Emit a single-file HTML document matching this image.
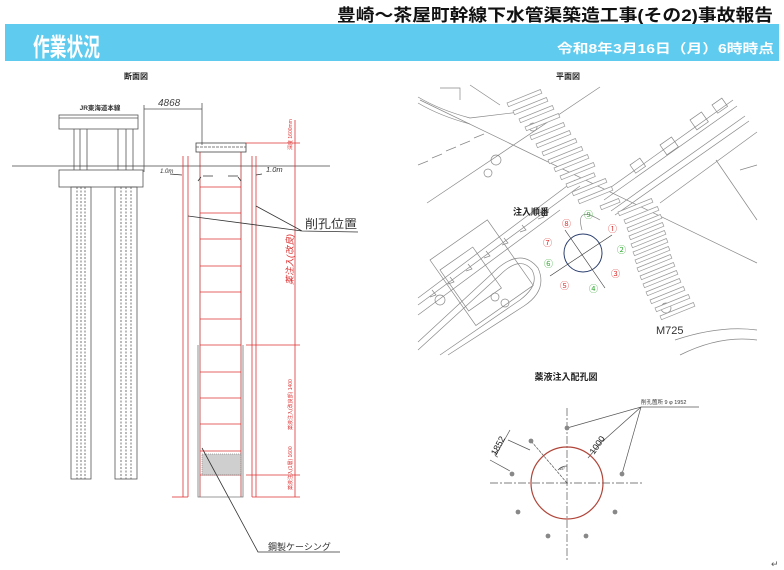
<!DOCTYPE html>
<html><head><meta charset="utf-8">
<style>
html,body{margin:0;padding:0;background:#fff;}
body{width:784px;height:570px;overflow:hidden;position:relative;font-family:"Liberation Sans","Noto Sans CJK JP",sans-serif;}
svg{position:absolute;left:0;top:0;}
</style></head><body>
<svg width="784" height="570" viewBox="0 0 784 570" xmlns="http://www.w3.org/2000/svg" font-family="Liberation Sans, Noto Sans CJK JP, sans-serif">
<!-- header -->
<text x="337" y="21" font-size="17" font-weight="bold" fill="#111" textLength="436" lengthAdjust="spacingAndGlyphs">豊崎～茶屋町幹線下水管渠築造工事(その2)事故報告</text>
<rect x="5" y="24" width="774" height="37" fill="#5fcbef"/>
<text x="33" y="56" font-size="25" font-weight="bold" fill="#fff" textLength="67" lengthAdjust="spacingAndGlyphs">作業状況</text>
<text x="557" y="53" font-size="13" font-weight="bold" fill="#fff" textLength="217" lengthAdjust="spacingAndGlyphs">令和8年3月16日（月）6時時点</text>
<text x="136" y="79" text-anchor="middle" font-size="8" font-weight="bold" fill="#222">断面図</text>
<text x="568" y="79" text-anchor="middle" font-size="8" font-weight="bold" fill="#222">平面図</text>

<!-- ===== cross section ===== -->
<g stroke="#555" stroke-width="0.8" fill="none">
<text x="100" y="110" text-anchor="middle" font-size="6.5" font-weight="bold" fill="#333" stroke="none">JR東海道本線</text>
<rect x="59" y="115" width="79" height="14"/>
<line x1="59" y1="118" x2="138" y2="118"/>
<line x1="74" y1="129" x2="74" y2="170"/><line x1="80" y1="129" x2="80" y2="170"/><line x1="87" y1="129" x2="87" y2="170"/>
<line x1="118" y1="129" x2="118" y2="170"/><line x1="126" y1="129" x2="126" y2="170"/><line x1="133" y1="129" x2="133" y2="170"/>
<line x1="12" y1="166" x2="330" y2="166" stroke="#444"/>
<rect x="59" y="170" width="84" height="17"/>
<rect x="71" y="187" width="20" height="292"/>
<rect x="115" y="187" width="22" height="292"/>
<line x1="77" y1="187" x2="77" y2="479" stroke-dasharray="2 1.5"/><line x1="81" y1="187" x2="81" y2="479" stroke-dasharray="2 1.5"/><line x1="85" y1="187" x2="85" y2="479" stroke-dasharray="2 1.5"/>
<line x1="121" y1="187" x2="121" y2="479" stroke-dasharray="2 1.5"/><line x1="126" y1="187" x2="126" y2="479" stroke-dasharray="2 1.5"/><line x1="131" y1="187" x2="131" y2="479" stroke-dasharray="2 1.5"/>
<!-- dim 4868 -->
<line x1="144" y1="105" x2="144" y2="172"/><line x1="202" y1="103" x2="202" y2="145"/>
<line x1="144" y1="109" x2="202" y2="109"/>
<text x="158" y="106" font-size="10" fill="#444" stroke="none" font-style="italic">4868</text>
<!-- shaft -->
<rect x="196" y="143" width="50" height="9" stroke="#444"/>
<line x1="196" y1="147" x2="246" y2="147" stroke-dasharray="3 1"/>
<line x1="200" y1="152" x2="200" y2="497" stroke="#b33"/><line x1="241" y1="152" x2="241" y2="497" stroke="#b33"/>
<path d="M198 345 L198 497 L243 497 L243 345" stroke="#777"/>
<path d="M201 177 l-3 4 M238 177 l3 4 M203 176 h10 M228 176 h10" stroke="#333"/>
</g>
<g stroke="#d33" stroke-width="0.8">
<line x1="200" y1="187" x2="241" y2="187"/><line x1="200" y1="213" x2="241" y2="213"/><line x1="200" y1="239" x2="241" y2="239"/><line x1="200" y1="266" x2="241" y2="266"/><line x1="200" y1="292" x2="241" y2="292"/><line x1="200" y1="319" x2="241" y2="319"/><line x1="200" y1="345" x2="241" y2="345"/><line x1="200" y1="372" x2="241" y2="372"/><line x1="200" y1="398" x2="241" y2="398"/><line x1="200" y1="424" x2="241" y2="424"/><line x1="200" y1="451" x2="241" y2="451"/><line x1="200" y1="475" x2="241" y2="475"/>
<line x1="183" y1="156" x2="183" y2="497"/><line x1="188" y1="156" x2="188" y2="497"/>
<line x1="252" y1="156" x2="252" y2="497"/><line x1="256" y1="156" x2="256" y2="497"/>
<line x1="172" y1="497" x2="188" y2="497"/><line x1="252" y1="497" x2="300" y2="497"/>
<line x1="295" y1="120" x2="295" y2="497"/>
<line x1="246" y1="143" x2="300" y2="143"/><line x1="246" y1="345" x2="300" y2="345"/><line x1="246" y1="475" x2="300" y2="475"/>
</g>
<rect x="202" y="454" width="39" height="21" fill="#bbb" opacity="0.7"/>
<rect x="202" y="454" width="39" height="21" fill="none" stroke="#666" stroke-width="0.5" stroke-dasharray="1 1"/>
<g fill="#d33" font-size="5">
<text transform="translate(292,150) rotate(-90)">深度 1600mm</text>
<text transform="translate(293,285) rotate(-90)" font-size="9" font-style="italic">薬注入(改良)</text>
<text transform="translate(292,430) rotate(-90)">薬液注入(改良部) 1400</text>
<text transform="translate(292,490) rotate(-90)">薬液注入(1層) 1600</text>
</g>
<g stroke="#333" stroke-width="0.8" fill="none">
<path d="M188 216 L302 231 M256 206 L302 231 L358 232"/>
<path d="M202 448 L258 552 L340 552"/>
<path d="M170 174 l12 1 M262 174 l-6 1"/>
</g>
<text x="305" y="228" font-size="12" fill="#333" textLength="52" lengthAdjust="spacingAndGlyphs">削孔位置</text>
<text x="160" y="173" font-size="6" fill="#333" font-style="italic">1.0m</text>
<text x="266" y="172" font-size="7.5" fill="#333" font-style="italic">1.0m</text>
<text x="268" y="550" font-size="9" fill="#333">鋼製ケーシング</text>

<!-- ===== plan map ===== -->
<g stroke="#888" stroke-width="0.7" fill="none">
<line x1="420" y1="100" x2="757" y2="263"/>
<line x1="600" y1="87" x2="427" y2="203"/>
<path d="M418 97 Q440 110 470 118 L520 112 M418 103 Q440 116 470 124"/>
<path d="M440 88 l20 0 l0 12 M470 85 l30 20"/>
<line x1="733" y1="100" x2="600" y2="195"/><line x1="737" y1="106" x2="604" y2="200"/>
<line x1="745" y1="116" x2="611" y2="211"/><line x1="749" y1="121" x2="615" y2="215"/>
<line x1="757" y1="132" x2="660" y2="203"/>
<rect x="712" y="105" width="12" height="10" transform="rotate(-35 712 105)"/>
<rect x="690" y="120" width="14" height="12" transform="rotate(-35 690 120)"/>
<rect x="660" y="145" width="14" height="12" transform="rotate(-35 660 145)"/>
<rect x="630" y="165" width="12" height="10" transform="rotate(-35 630 165)"/>
<line x1="418" y1="298" x2="575" y2="180"/><line x1="418" y1="305" x2="580" y2="186"/>
<line x1="418" y1="315" x2="560" y2="210"/>
<path d="M432 290 l4 5 l-6 2 M450 277 l4 5 l-6 2 M468 264 l4 5 l-6 2 M486 251 l4 5 l-6 2 M504 238 l4 5 l-6 2 M522 225 l4 5 l-6 2 M540 212 l4 5 l-6 2"/>
<path d="M418 350 L500 275 Q520 255 532 270 Q540 285 520 300 L440 355"/>
<path d="M418 342 L498 268 Q522 248 538 268 Q548 290 524 306 L448 355"/>
<rect x="440" y="270" width="40" height="50" transform="rotate(-35 440 270)"/>
<rect x="430" y="260" width="70" height="80" transform="rotate(-35 430 260)"/>
<circle cx="496" cy="160" r="5"/><circle cx="488" cy="173" r="4"/><circle cx="533" cy="127" r="4"/>
<circle cx="440" cy="300" r="5"/><circle cx="495" cy="297" r="4"/><circle cx="505" cy="303" r="4"/>
<path d="M418 165 l10 -4 M432 158 l10 -4 M446 151 l10 -4 M460 145 l10 -4 M474 138 l10 -4"/>
<path d="M600 220 Q575 205 582 230"/>
<path d="M675 340 Q720 325 757 330 M680 355 Q720 335 757 340"/>
<line x1="716" y1="160" x2="757" y2="220"/><line x1="740" y1="170" x2="757" y2="165"/>
<circle cx="666" cy="308" r="5"/>
</g>
<g stroke="#999" stroke-width="0.7" fill="#fff">
<rect width="36" height="4" transform="translate(507,103) rotate(-22)"/>
<rect width="36" height="4" transform="translate(513,111) rotate(-22)"/>
<rect width="36" height="4" transform="translate(519,119) rotate(-22)"/>
<rect width="36" height="4" transform="translate(525,127) rotate(-22)"/>
<rect width="36" height="4" transform="translate(530,136) rotate(-22)"/>
<rect width="36" height="4" transform="translate(536,144) rotate(-22)"/>
<rect width="36" height="4" transform="translate(542,152) rotate(-22)"/>
<rect width="36" height="4" transform="translate(548,160) rotate(-22)"/>
<rect width="36" height="4" transform="translate(554,168) rotate(-22)"/>
<rect width="36" height="4" transform="translate(560,176) rotate(-22)"/>
<rect width="30" height="4" transform="translate(566,184) rotate(-22)"/>
<rect width="36" height="4" transform="translate(572,192) rotate(-22)"/>
<rect width="36" height="4" transform="translate(578,200) rotate(-22)"/>
<rect width="20" height="4" transform="translate(600,206) rotate(-22)"/>
<rect width="36" height="4" transform="translate(618,212) rotate(-22)"/>
<rect width="36" height="4" transform="translate(624,220) rotate(-22)"/>
<rect width="36" height="4" transform="translate(627,228) rotate(-22)"/>
<rect width="36" height="4" transform="translate(629,236) rotate(-22)"/>
<rect width="36" height="4" transform="translate(631,244) rotate(-22)"/>
<rect width="36" height="4" transform="translate(633,252) rotate(-22)"/>
<rect width="36" height="4" transform="translate(635,260) rotate(-22)"/>
<rect width="36" height="4" transform="translate(637,268) rotate(-22)"/>
<rect width="36" height="4" transform="translate(640,276) rotate(-22)"/>
<rect width="36" height="4" transform="translate(643,284) rotate(-22)"/>
<rect width="36" height="4" transform="translate(646,292) rotate(-22)"/>
<rect width="36" height="4" transform="translate(650,300) rotate(-22)"/>
<rect width="36" height="4" transform="translate(655,308) rotate(-22)"/>
<rect width="36" height="4" transform="translate(660,316) rotate(-22)"/>
</g>
<circle cx="583" cy="253" r="19" fill="none" stroke="#2a3e6e" stroke-width="1"/>
<line x1="565" y1="230" x2="605" y2="288" stroke="#333" stroke-width="0.6"/>
<line x1="550" y1="276" x2="612" y2="235" stroke="#333" stroke-width="0.6"/>
<text x="513" y="215" font-size="9" font-weight="bold" fill="#222">注入順番</text>
<g font-size="9">
<text x="562" y="227" fill="#d33">⑧</text><text x="584" y="218" fill="#3a3">⑨</text>
<text x="608" y="232" fill="#d33">①</text><text x="617" y="253" fill="#3a3">②</text>
<text x="611" y="277" fill="#d33">③</text><text x="589" y="292" fill="#3a3">④</text>
<text x="560" y="289" fill="#d33">⑤</text><text x="544" y="267" fill="#3a3">⑥</text>
<text x="543" y="246" fill="#d33">⑦</text>
</g>
<text x="656" y="334" font-size="11" fill="#333">M725</text>

<!-- ===== injection hole layout ===== -->
<text x="566" y="380" text-anchor="middle" font-size="9" font-weight="bold" fill="#222">薬液注入配孔図</text>
<g stroke="#555" stroke-width="0.7" fill="none">
<line x1="490" y1="483" x2="643" y2="483" stroke-dasharray="8 2 2 2"/>
<line x1="567" y1="408" x2="567" y2="560" stroke-dasharray="8 2 2 2"/>
<line x1="567" y1="483" x2="531" y2="441" stroke-dasharray="3 1"/>
<path d="M567 428 L641 407 L622 474 M641 407 L603 441 M641 407 L699 407"/>
<line x1="588" y1="458" x2="604" y2="439"/>
<path d="M510 430 L496 455 M508 440 L530 450 M490 460 L510 471"/>
<path d="M498 451 a3 3 0 1 0 0 6"/>
<path d="M558 470 a12 12 0 0 1 9 -4"/>
</g>
<circle cx="567" cy="483" r="36" fill="none" stroke="#b0463a" stroke-width="1.2"/>
<g fill="#888">
<circle cx="567" cy="428" r="2.4"/><circle cx="531" cy="441" r="2.4"/><circle cx="512" cy="474" r="2.4"/><circle cx="518" cy="512" r="2.4"/>
<circle cx="548" cy="536" r="2.4"/><circle cx="586" cy="536" r="2.4"/><circle cx="615" cy="512" r="2.4"/><circle cx="622" cy="474" r="2.4"/>
</g>
<text x="641" y="404" font-size="5.5" fill="#333">削孔箇所 9 φ 1952</text>
<text transform="translate(594,455) rotate(-55)" font-size="9" fill="#222">1000</text>
<text transform="translate(496,456) rotate(-62)" font-size="9" fill="#222">1852</text>
<text x="559" y="470" font-size="4" fill="#333">45°</text>
<text x="771" y="567" font-size="9" fill="#555">↵</text>
</svg>
</body></html>
